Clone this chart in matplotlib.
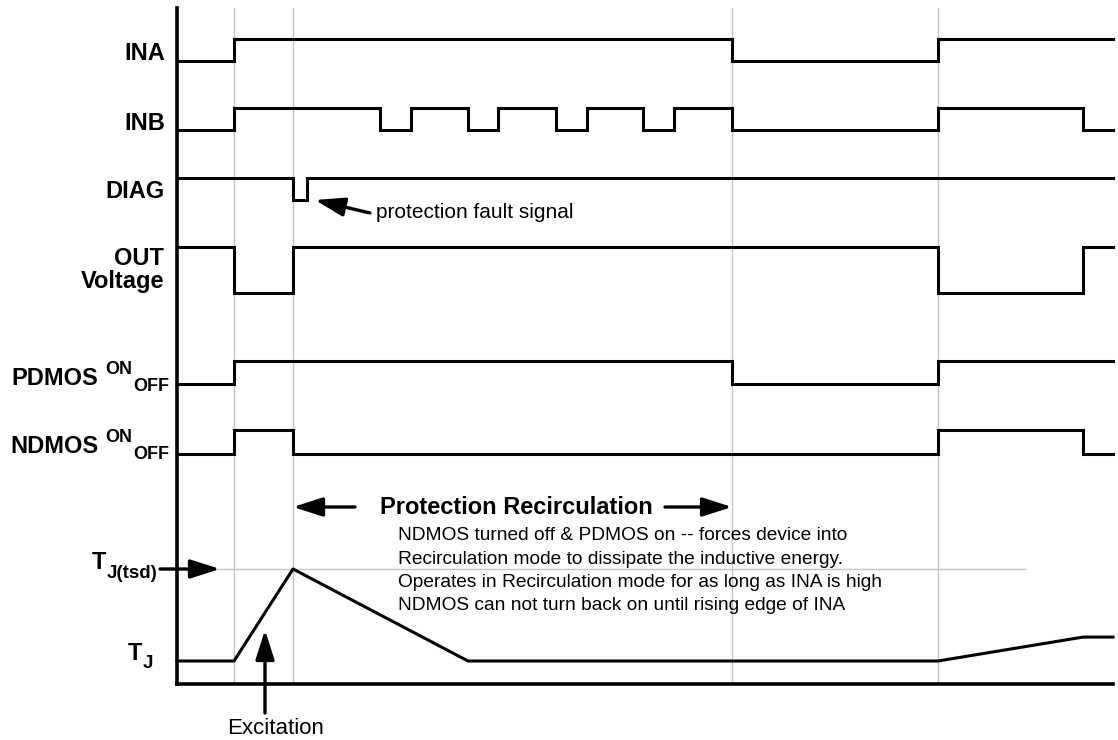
import matplotlib
matplotlib.use('Agg')
import matplotlib.pyplot as plt

plt.rcParams['font.family'] = ['Liberation Sans', 'DejaVu Sans']

# time axis in arbitrary units (0 .. 936)
t_end = 936
markers = [57, 116, 555, 761]

ina_t = [0, 57, 555, 761, t_end]
ina = [0, 1, 0, 1, 1]

inb_t = [0, 57, 203, 234, 291, 321, 379, 410, 466, 497, 555, 761, 906, t_end]
inb = [0, 1, 0, 1, 0, 1, 0, 1, 0, 1, 0, 1, 0, 0]

diag_t = [0, 116, 130, t_end]
diag = [1, 0, 1, 1]

out_t = [0, 57, 116, 761, 906, t_end]
out = [1, 0, 1, 0, 1, 1]

pdmos_t = [0, 57, 555, 761, t_end]
pdmos = [0, 1, 0, 1, 1]

ndmos_t = [0, 57, 116, 761, 906, t_end]
ndmos = [0, 1, 0, 1, 0, 0]

tj_t = [0, 57, 116, 291, 761, 906, t_end]
tj = [0, 0, 1.0, 0, 0, 0.26, 0.26]

note_lines = [
    'NDMOS turned off & PDMOS on -- forces device into',
    'Recirculation mode to dissipate the inductive energy.',
    'Operates in Recirculation mode for as long as INA is high',
    'NDMOS can not turn back on until rising edge of INA',
]

fig = plt.figure(figsize=(11.18, 7.4), dpi=100)
ax = fig.add_axes([177 / 1118, 56 / 740, 936 / 1118, 676 / 740])
ax.set_xlim(0, t_end)
ax.set_ylim(0, 676)

# (times, levels, low position, swing)
signals = [
    (ina_t, ina, 623, 22),
    (inb_t, inb, 554, 22),
    (diag_t, diag, 484, 22),
    (out_t, out, 391, 46),
    (pdmos_t, pdmos, 300, 23),
    (ndmos_t, ndmos, 230, 24),
]

for m in markers:
    ax.axvline(m, color='#c4c4c4', lw=1, zorder=1)
tsd_level = 23 + 92 * max(tj)
ax.plot([0, 848], [tsd_level, tsd_level], color='#c4c4c4', lw=1, zorder=1)

for t, v, low, amp in signals:
    ax.step(t, [low + amp * s for s in v], where='post', color='black', lw=2.2,
            solid_joinstyle='miter', clip_on=False, zorder=3)

ax.plot(tj_t, [23 + 92 * s for s in tj], color='black', lw=2.2, clip_on=False, zorder=3)

for side in ['top', 'right']:
    ax.spines[side].set_visible(False)
for side in ['left', 'bottom']:
    ax.spines[side].set_linewidth(2.6)
ax.set_xticks([])
ax.set_yticks([])

# labels
lab = dict(fontsize=17, fontweight='bold', clip_on=False)
ax.text(-12, 630, 'INA', ha='right', va='center', **lab)
ax.text(-12, 561, 'INB', ha='right', va='center', **lab)
ax.text(-12, 493, 'DIAG', ha='right', va='center', **lab)
ax.text(-13, 414, 'OUT\nVoltage', ha='right', va='center', multialignment='right',
        linespacing=1.05, **lab)

for name, base in [('PDMOS', 684 - 385), ('NDMOS', 684 - 453)]:
    ax.text(-79, base, name, ha='right', va='baseline', **lab)
    ax.text(-72, base + 11, 'ON', ha='left', va='baseline', fontsize=13, fontweight='bold')
    ax.text(-44, base - 6, 'OFF', ha='left', va='baseline', fontsize=13, fontweight='bold')

ax.text(-71, 684 - 569, 'T', ha='right', va='baseline', **lab)
ax.text(-70, 684 - 578, 'J(tsd)', ha='left', va='baseline', fontsize=13.5, fontweight='bold')
ax.text(-35, 684 - 660, 'T', ha='right', va='baseline', **lab)
ax.text(-34, 684 - 668, 'J', ha='left', va='baseline', fontsize=13.5, fontweight='bold')

arrow = dict(arrowstyle='-|>,head_length=0.75,head_width=0.24', mutation_scale=24,
             color='black', lw=2.4, shrinkA=0, shrinkB=0)

ax.annotate('', xy=(43, tsd_level), xytext=(-17, tsd_level), arrowprops=arrow,
            annotation_clip=False)

ax.annotate('', xy=(138, 484), xytext=(193, 471), arrowprops=arrow)
ax.text(199, 471, 'protection fault signal', ha='left', va='center', fontsize=15)

ax.annotate('', xy=(116, 177), xytext=(178, 177), arrowprops=arrow)
ax.annotate('', xy=(555, 177), xytext=(488, 177), arrowprops=arrow)
ax.text(203, 177, 'Protection Recirculation', ha='left', va='center',
        fontsize=17, fontweight='bold')

for i, line in enumerate(note_lines):
    ax.text(221, 144 - 23.5 * i, line, ha='left', va='baseline', fontsize=13.8)

ax.annotate('', xy=(88, 54), xytext=(88, -29), arrowprops=arrow, annotation_clip=False)
ax.text(99, -50, 'Excitation', ha='center', va='baseline', fontsize=16, clip_on=False)

fig.savefig('out.png', dpi=100)
